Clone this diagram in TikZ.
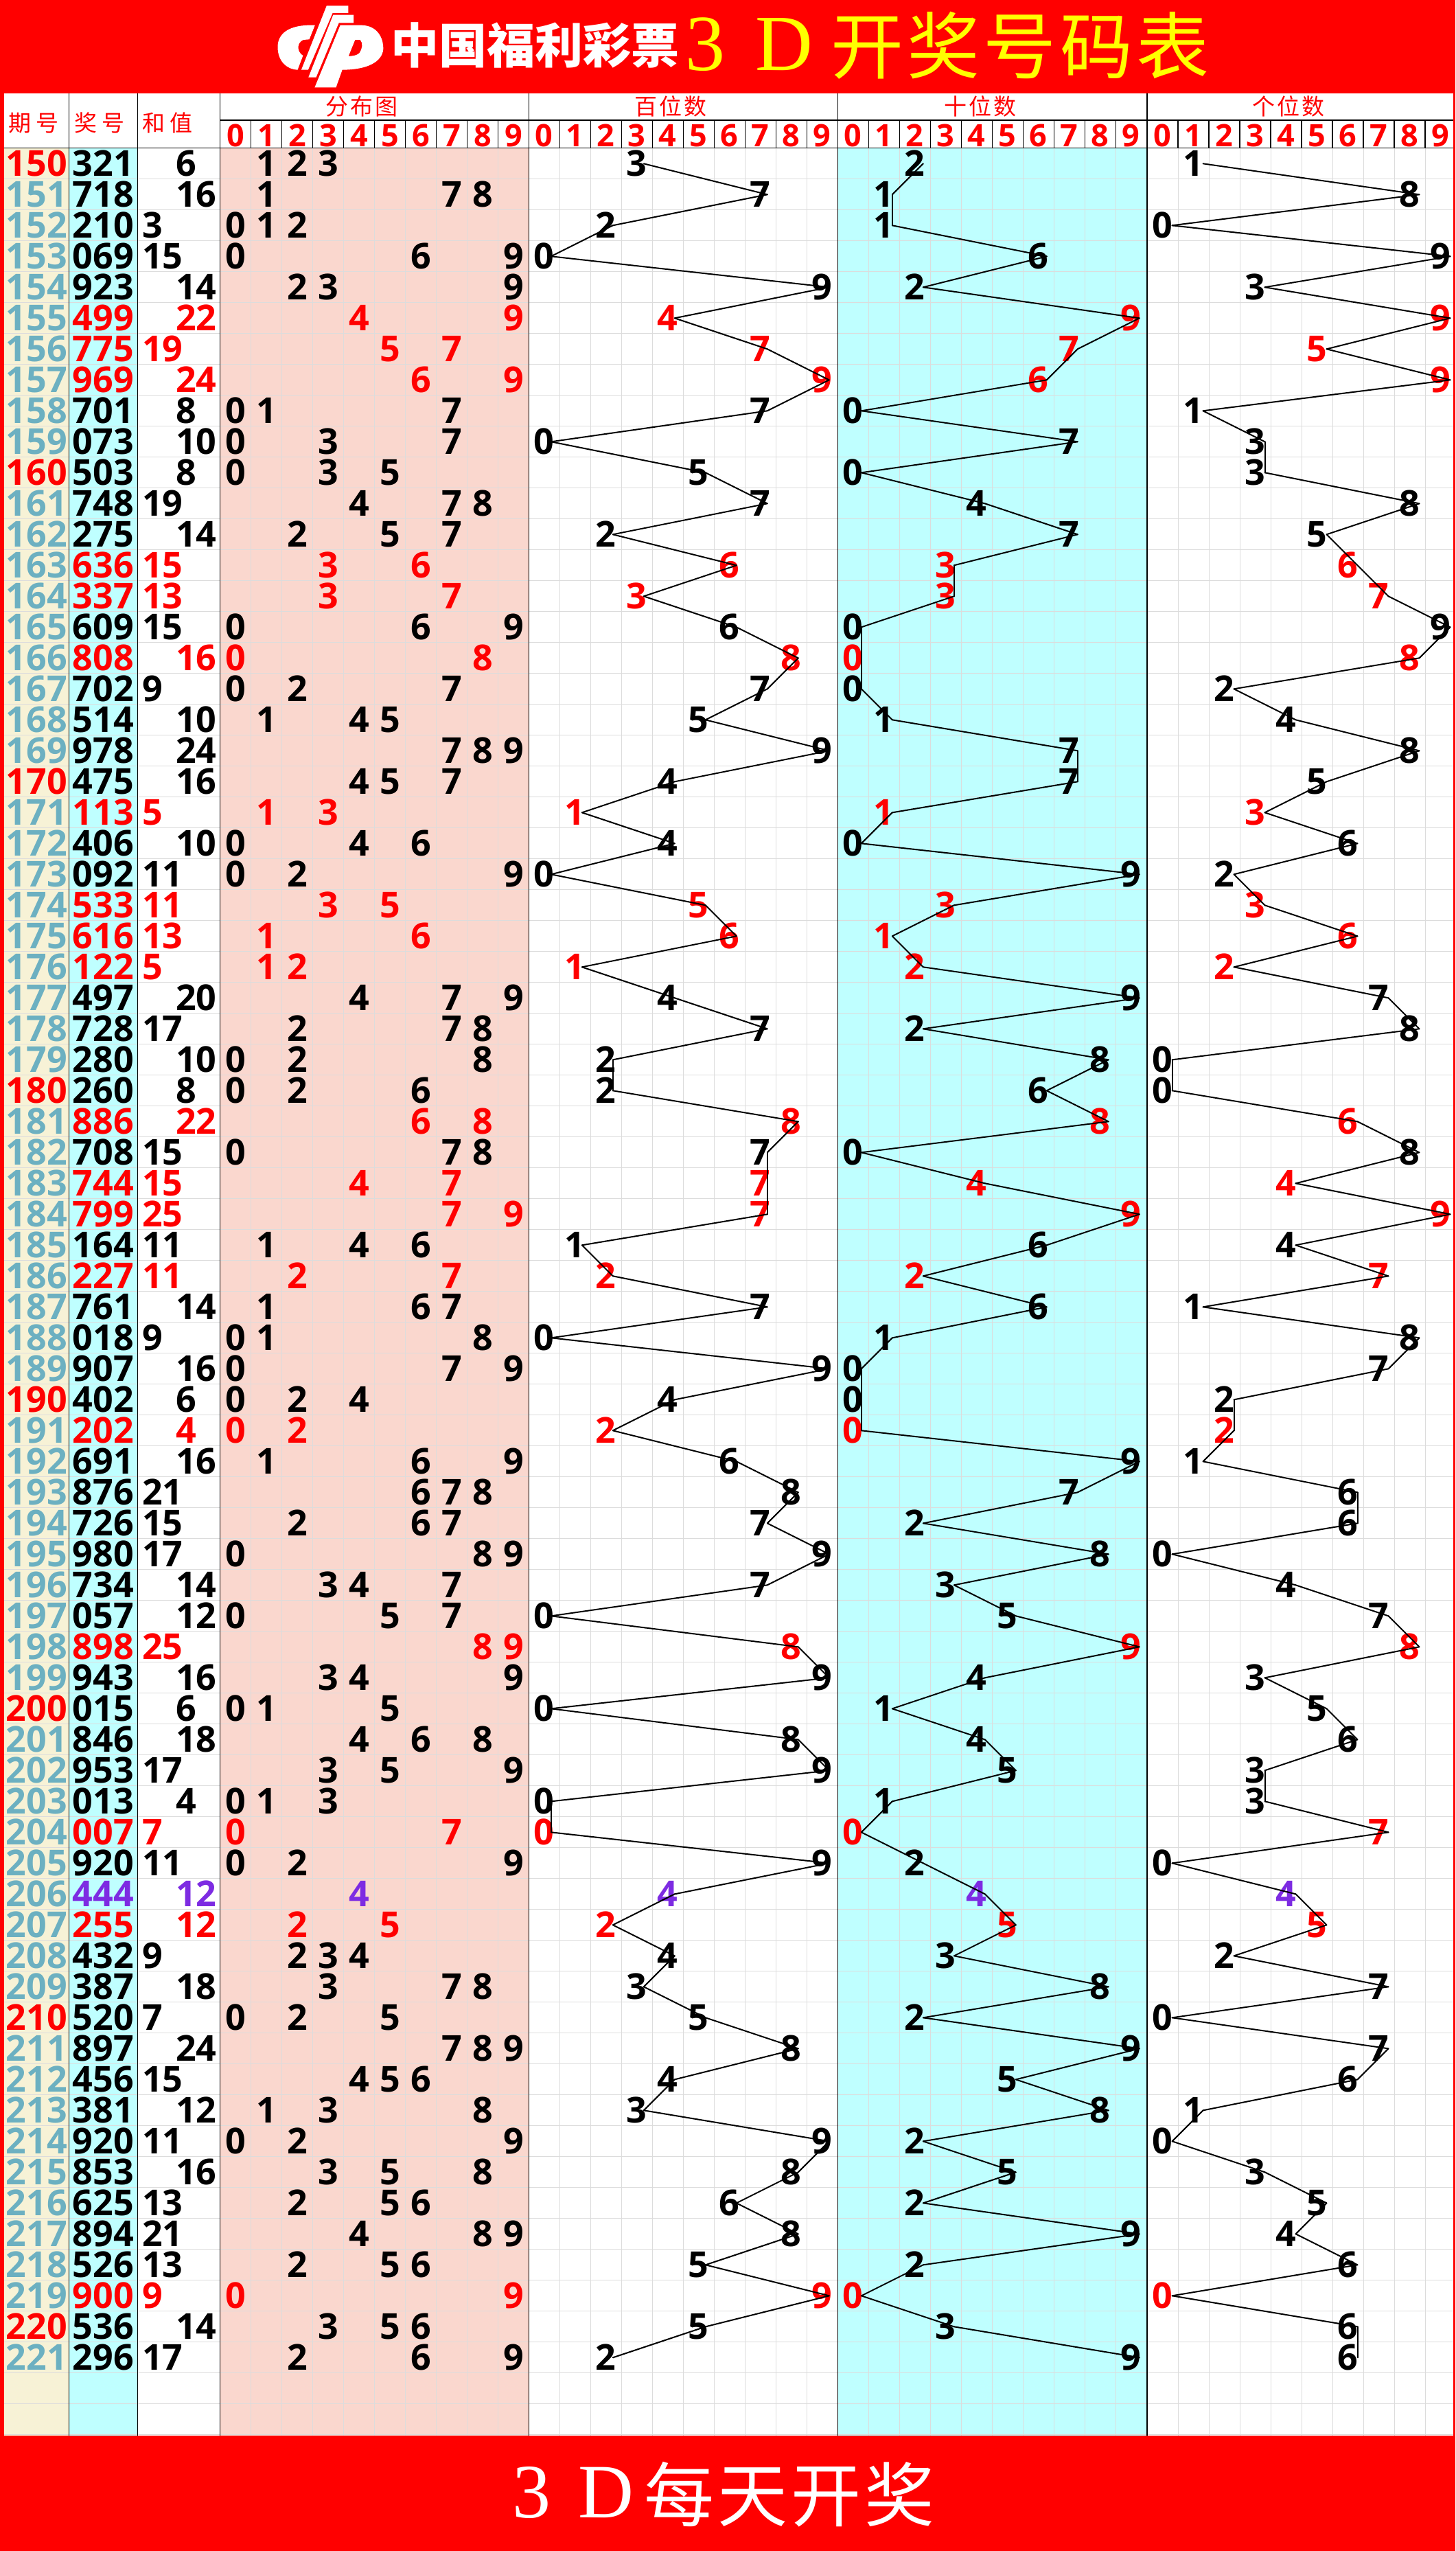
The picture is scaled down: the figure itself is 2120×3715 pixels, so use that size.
\documentclass[tikz,border=0pt]{standalone}
\usepackage{fontspec}
\setmainfont{Open Sans}
\newfontfamily\cjkwide[LetterSpace=9]{Noto Sans CJK SC}
\newfontfamily\cjkwider[LetterSpace=24]{Noto Sans CJK SC}
\newfontfamily\cjktitle[LetterSpace=5]{Noto Sans CJK SC}
\newfontfamily\cjklogo{Noto Sans CJK SC}
\newfontfamily\latser{Liberation Serif}
\definecolor{colK}{HTML}{000000}
\definecolor{colR}{HTML}{FF0000}
\definecolor{colV}{HTML}{7D2BE2}
\definecolor{colT}{HTML}{6CB0C1}
\definecolor{cream}{HTML}{F7F2D6}
\definecolor{cyanbg}{HTML}{BFFFFF}
\definecolor{pinkbg}{HTML}{FAD7CE}
\definecolor{gridc}{HTML}{DCDCDC}
\definecolor{titley}{HTML}{FFFF00}
\tikzset{
  digit/.style={inner sep=0pt,outer sep=0pt,text height=37pt,text depth=0pt,font=\bfseries\fontsize{52}{52}\selectfont},
  hdigit/.style={inner sep=0pt,outer sep=0pt,text height=32pt,text depth=0pt,text=colR,font=\bfseries\fontsize{45}{45}\selectfont},
  headcjk/.style={inner sep=0pt,outer sep=0pt,text=colR,font=\cjkwide\fontsize{33}{33}\selectfont},
  headcjkb/.style={inner sep=0pt,outer sep=0pt,text=colR,font=\cjkwider\fontsize{33}{33}\selectfont},
  gridh/.style={draw=gridc,line width=1.4pt},
  gridv/.style={draw=gridc,line width=1pt},
  rule/.style={draw=black,line width=1.2pt},
  link/.style={draw=black,line width=2pt,line cap=round,line join=round},
}
\begin{document}
\begin{tikzpicture}[x=1pt,y=-1pt]
\useasboundingbox (0,0) rectangle (2120,3715);
\fill[colR] (0,0) rectangle (2120,3715);
\fill[white] (6,136) rectangle (2116.8,3547);
% column backgrounds
\fill[cream] (6,215.3) rectangle (100.5,3547);
\fill[cyanbg] (100.5,215.3) rectangle (200.5,3547);
\fill[pinkbg] (320.4,215.3) rectangle (770.3,3547);
\fill[cyanbg] (1220.3,215.3) rectangle (1671,3547);
% grid
\foreach \k in {1,...,74}{\draw[gridh] (6,{215.3+45*\k}) -- (2116.8,{215.3+45*\k});}
\foreach \k in {1,...,9}{
  \draw[gridv] ({320.4+45*\k},215.3) -- ({320.4+45*\k},3547);
  \draw[gridv] ({770.3+45*\k},215.3) -- ({770.3+45*\k},3547);
  \draw[gridv] ({1220.3+45*\k},215.3) -- ({1220.3+45*\k},3547);
  \draw[gridv] ({1671+45*\k},215.3) -- ({1671+45*\k},3547);
  \draw[rule] ({320.4+45*\k},175) -- ({320.4+45*\k},215.3);
  \draw[rule] ({770.3+45*\k},175) -- ({770.3+45*\k},215.3);
  \draw[rule] ({1220.3+45*\k},175) -- ({1220.3+45*\k},215.3);
  \draw[rule] ({1671+45*\k},175) -- ({1671+45*\k},215.3);
}
% header rules
\draw[rule] (320.4,175) -- (2116.8,175);
\draw[rule] (6,215.3) -- (2116.8,215.3);
\foreach \xx in {100.5,200.5,320.4,770.3,1220.3,1671}{\draw[rule] (\xx,136) -- (\xx,3547);}
% header texts
\node[headcjkb] (hq) at (49,179) {期号};
\node[headcjkb] (hj) at (145,179) {奖号};
\node[headcjkb] (hs) at (244,179) {和值};
\node[headcjk] (hf) at (527,155) {分布图};
\node[headcjk] (hb) at (977,155) {百位数};
\node[headcjk] (ht) at (1428,155) {十位数};
\node[headcjk] (hg) at (1877,155) {个位数};
\foreach \k in {0,...,9}{
  \node[hdigit] (fa\k) at ({320.4+45*(\k+.5)},197) {\k};
  \node[hdigit] (fb\k) at ({770.3+45*(\k+.5)},197) {\k};
  \node[hdigit] (fc\k) at ({1220.3+45*(\k+.5)},197) {\k};
  \node[hdigit] (fd\k) at ({1671+45*(\k+.5)},197) {\k};
}
% rows
\foreach \per/\dH/\dT/\dU/\sm/\cl in {
150/3/2/1/6/K,151/7/1/8/16/K,152/2/1/0/3/K,153/0/6/9/15/K,154/9/2/3/14/K,155/4/9/9/22/R,
156/7/7/5/19/R,157/9/6/9/24/R,158/7/0/1/8/K,159/0/7/3/10/K,160/5/0/3/8/K,161/7/4/8/19/K,
162/2/7/5/14/K,163/6/3/6/15/R,164/3/3/7/13/R,165/6/0/9/15/K,166/8/0/8/16/R,167/7/0/2/9/K,
168/5/1/4/10/K,169/9/7/8/24/K,170/4/7/5/16/K,171/1/1/3/5/R,172/4/0/6/10/K,173/0/9/2/11/K,
174/5/3/3/11/R,175/6/1/6/13/R,176/1/2/2/5/R,177/4/9/7/20/K,178/7/2/8/17/K,179/2/8/0/10/K,
180/2/6/0/8/K,181/8/8/6/22/R,182/7/0/8/15/K,183/7/4/4/15/R,184/7/9/9/25/R,185/1/6/4/11/K,
186/2/2/7/11/R,187/7/6/1/14/K,188/0/1/8/9/K,189/9/0/7/16/K,190/4/0/2/6/K,191/2/0/2/4/R,
192/6/9/1/16/K,193/8/7/6/21/K,194/7/2/6/15/K,195/9/8/0/17/K,196/7/3/4/14/K,197/0/5/7/12/K,
198/8/9/8/25/R,199/9/4/3/16/K,200/0/1/5/6/K,201/8/4/6/18/K,202/9/5/3/17/K,203/0/1/3/4/K,
204/0/0/7/7/R,205/9/2/0/11/K,206/4/4/4/12/V,207/2/5/5/12/R,208/4/3/2/9/K,209/3/8/7/18/K,
210/5/2/0/7/K,211/8/9/7/24/K,212/4/5/6/15/K,213/3/8/1/12/K,214/9/2/0/11/K,215/8/5/3/16/K,
216/6/2/5/13/K,217/8/9/4/21/K,218/5/2/6/13/K,219/9/0/0/9/R,220/5/3/6/14/K,221/2/9/6/17/K}{
  \pgfmathsetmacro\yy{215.3+45*(\per-150)+23}
  \pgfmathtruncatemacro\mten{mod(\per,10)}
  \ifnum\mten=0 \def\pc{colR}\else\def\pc{colT}\fi
  \ifodd\sm \def\sx{207}\else\def\sx{256}\fi
  \node[digit,text=\pc] (p\per) at (53.2,\yy) {\per};
  \node[digit,text=col\cl] (n\per) at (150.5,\yy) {\dH\dT\dU};
  \node[digit,text=col\cl,anchor=west] (s\per) at (\sx,\yy) {\sm};
  \node[digit,text=col\cl] (da\per) at ({320.4+45*(\dH+.5)},\yy) {\dH};
  \ifnum\dT=\dH\else
    \node[digit,text=col\cl] (db\per) at ({320.4+45*(\dT+.5)},\yy) {\dT};
  \fi
  \ifnum\dU=\dH\else\ifnum\dU=\dT\else
    \node[digit,text=col\cl] (dc\per) at ({320.4+45*(\dU+.5)},\yy) {\dU};
  \fi\fi
  \node[digit,text=col\cl] (h\per) at ({770.3+45*(\dH+.5)},\yy) {\dH};
  \node[digit,text=col\cl] (t\per) at ({1220.3+45*(\dT+.5)},\yy) {\dT};
  \node[digit,text=col\cl] (u\per) at ({1671+45*(\dU+.5)},\yy) {\dU};
}
% connectors
\foreach \per in {150,...,220}{
  \pgfmathtruncatemacro\nx{\per+1}
  \draw[link] ([xshift=10pt]h\per.center) -- ([xshift=10pt]h\nx.center);
  \draw[link] ([xshift=12pt]t\per.center) -- ([xshift=12pt]t\nx.center);
  \draw[link] ([xshift=14pt]u\per.center) -- ([xshift=14pt]u\nx.center);
}
% logo
\begin{scope}[shift={(390,0)},x=0.41454pt,y=-0.33333pt]
  \fill[white] (166,110) .. controls (70,106) and (35,150) .. (35,205)
     .. controls (35,265) and (65,303) .. (105,305) -- (124,243)
     .. controls (103,228) and (100,188) .. (125,174) -- (146,172) -- cycle;
  \fill[white] (207,25) -- (283,25) -- (283,57) -- (228,57) -- (142,305) -- (118,305) -- cycle;
  \fill[white] (230,65) -- (302,65) -- (302,100) -- (250,100) -- (170,338) -- (143,338) -- cycle;
  \fill[white,even odd rule] (255,110) -- (330,110) .. controls (385,112) and (407,165) .. (406,215)
     .. controls (402,270) and (350,305) .. (262,305) -- (240,382) -- (165,382) -- cycle
     (307,174) -- (325,174) .. controls (336,188) and (332,215) .. (322,232)
     .. controls (312,243) and (298,245) .. (284,245) -- cycle;
\end{scope}
\node[inner sep=0pt,text=white,font=\cjklogo\bfseries\fontsize{70}{70}\selectfont] (logotext) at (779,66) {中国福利彩票};
% title
\node[inner sep=0pt,anchor=base west,text=titley,font=\latser\fontsize{116}{116}\selectfont] (title3d) at (998,102) {3\hspace{44pt}D};
\node[inner sep=0pt,text=titley,font=\cjktitle\fontsize{106}{106}\selectfont] (titlecn) at (1486,66) {开奖号码表};
\node[inner sep=0pt,anchor=base west,text=white,font=\latser\fontsize{112}{112}\selectfont] (foot3d) at (746,3666) {3\hspace{40pt}D};
\node[inner sep=0pt,text=white,font=\cjktitle\fontsize{102}{102}\selectfont] (footcn) at (1150,3633) {每天开奖};
\end{tikzpicture}
\end{document}
